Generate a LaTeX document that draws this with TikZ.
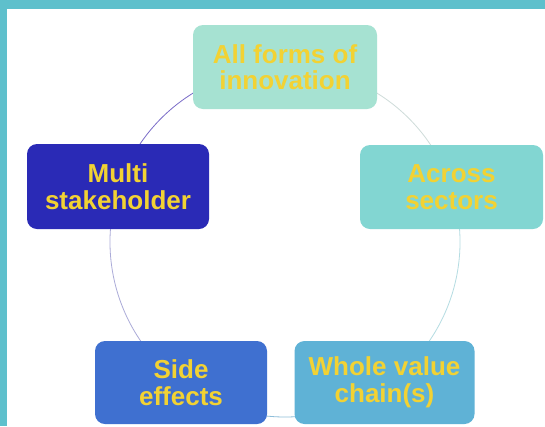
\documentclass[tikz,border=0pt]{standalone}
\usepackage{fontspec}
\setmainfont{Liberation Sans}
\definecolor{bgteal}{HTML}{5EC0CC}
\definecolor{cTop}{HTML}{A6E2D2}
\definecolor{cRight}{HTML}{82D6D2}
\definecolor{cBR}{HTML}{5FB2D6}
\definecolor{cBL}{HTML}{3F70D0}
\definecolor{cLeft}{HTML}{2A2AB6}
\definecolor{txtyellow}{HTML}{F2D233}
\definecolor{aTR}{HTML}{CFDCDA}
\definecolor{aR}{HTML}{B4DCE2}
\definecolor{aB}{HTML}{8EBEDA}
\definecolor{aL}{HTML}{ABABD8}
\definecolor{aTL}{HTML}{7A6CC8}
\tikzset{
  cbox/.style={rounded corners=10pt, align=center, text=txtyellow,
    font=\fontsize{26}{26.5}\selectfont\bfseries, inner sep=0pt},
  carc/.style={line width=0.8pt}
}
\begin{document}
\begin{tikzpicture}[x=1pt,y=-1pt]
  \useasboundingbox (0,0) rectangle (545,426);
  \fill[bgteal] (0,0) rectangle (545,426);
  \fill[white] (7,9) rectangle (545,426);
  \coordinate (c) at (285,242);
  % cycle arcs
  \draw[carc,aTR] (c) ++(-90:175) arc[start angle=-90, end angle=-18, radius=175];
  \draw[carc,aR] (c) ++(-18:175) arc[start angle=-18, end angle=54, radius=175];
  \draw[carc,aB] (c) ++(54:175) arc[start angle=54, end angle=126, radius=175];
  \draw[carc,aL] (c) ++(126:175) arc[start angle=126, end angle=198, radius=175];
  \draw[carc,aTL] (c) ++(198:175) arc[start angle=198, end angle=270, radius=175];
  % boxes
  \node[cbox, fill=cTop, minimum width=184pt, minimum height=84pt] (top) at (285,67) {All forms of\\innovation};
  \node[cbox, fill=cRight, minimum width=183pt, minimum height=84pt] (right) at (451.5,187) {Across\\sectors};
  \node[cbox, fill=cBR, minimum width=180pt, minimum height=83pt] (br) at (384.5,382.5) {Whole value\\chain(s)};
  \node[cbox, fill=cBL, minimum width=172pt, minimum height=83pt] (bl) at (181,382.5) {Side\\effects};
  \node[cbox, fill=cLeft, minimum width=182pt, minimum height=85pt] (left) at (118,186.5) {Multi\\stakeholder};
\end{tikzpicture}
\end{document}
